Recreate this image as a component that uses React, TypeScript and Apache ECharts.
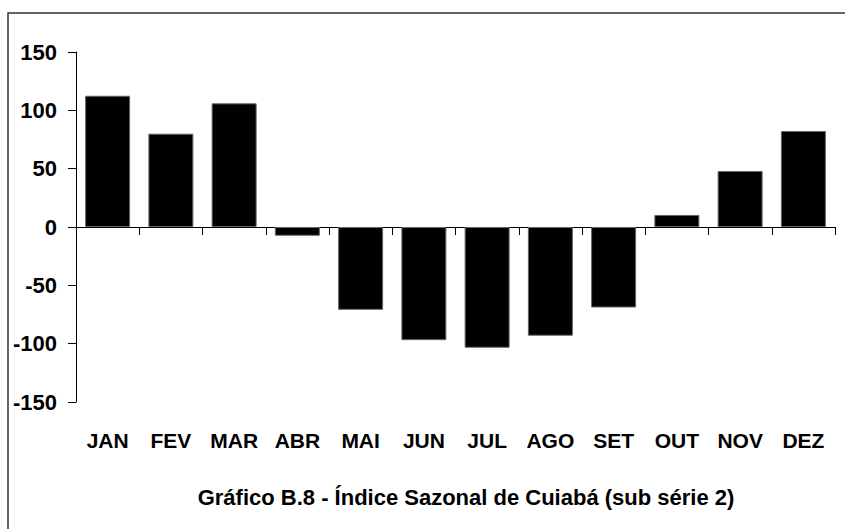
import React, { useEffect, useRef } from "react";
import * as echarts from "echarts";

const categories = ["JAN", "FEV", "MAR", "ABR", "MAI", "JUN", "JUL", "AGO", "SET", "OUT", "NOV", "DEZ"];
const values = [112.5, 80, 106, -7.5, -71, -97, -103.5, -93.2, -69, 10.3, 48, 82.3];
const yTicks = { min: -150, max: 150, interval: 50 };
const titleText = "Gráfico B.8 - Índice Sazonal de Cuiabá (sub série 2)";

const FONT = "'Liberation Sans', Arial, Helvetica, sans-serif";

export default function App() {
  const ref = useRef<HTMLDivElement>(null);
  useEffect(() => {
    const chart = echarts.init(ref.current!, null, { renderer: "svg" });
    chart.setOption({
      animation: false,
      backgroundColor: "#ffffff",
      title: {
        text: titleText,
        left: 461,
        top: 481,
        textAlign: "center",
        textStyle: { fontFamily: FONT, fontSize: 22, fontWeight: "bold", color: "#000" },
      },
      graphic: [
        {
          type: "rect",
          shape: { x: 8, y: 13, width: 900, height: 600 },
          style: { fill: "none", stroke: "#333", lineWidth: 1.5 },
          silent: true,
        },
      ],
      grid: { left: 76, right: 10, top: 52, bottom: 127, containLabel: false },
      xAxis: [
        {
          type: "category",
          data: categories,
          axisLine: { show: true, onZero: true, lineStyle: { color: "#000", width: 1 } },
          axisTick: { show: true, length: 8, inside: false, lineStyle: { color: "#000" } },
          axisLabel: { show: false },
          splitLine: { show: false },
        },
        {
          type: "category",
          data: categories,
          position: "bottom",
          axisLine: { show: false, onZero: false },
          axisTick: { show: false },
          axisLabel: {
            show: true,
            interval: 0,
            hideOverlap: false,
            margin: 28,
            fontFamily: FONT,
            fontSize: 21,
            fontWeight: "bold",
            color: "#000",
          },
          splitLine: { show: false },
        },
      ],
      yAxis: {
        type: "value",
        min: yTicks.min,
        max: yTicks.max,
        interval: yTicks.interval,
        axisLine: { show: true, lineStyle: { color: "#000", width: 1 } },
        axisTick: { show: true, length: 8, lineStyle: { color: "#000" } },
        axisLabel: {
          margin: 19,
          fontFamily: FONT,
          fontSize: 22,
          fontWeight: "bold",
          color: "#000",
        },
        splitLine: { show: false },
      },
      series: [
        {
          type: "bar",
          data: values,
          barWidth: 45,
          itemStyle: { color: "#000", borderColor: "#666", borderWidth: 1 },
        },
      ],
    });
    return () => chart.dispose();
  }, []);
  return (
    <div
      ref={ref}
      style={{ position: "fixed", left: 0, top: 0, width: 845, height: 529 }}
    />
  );
}
